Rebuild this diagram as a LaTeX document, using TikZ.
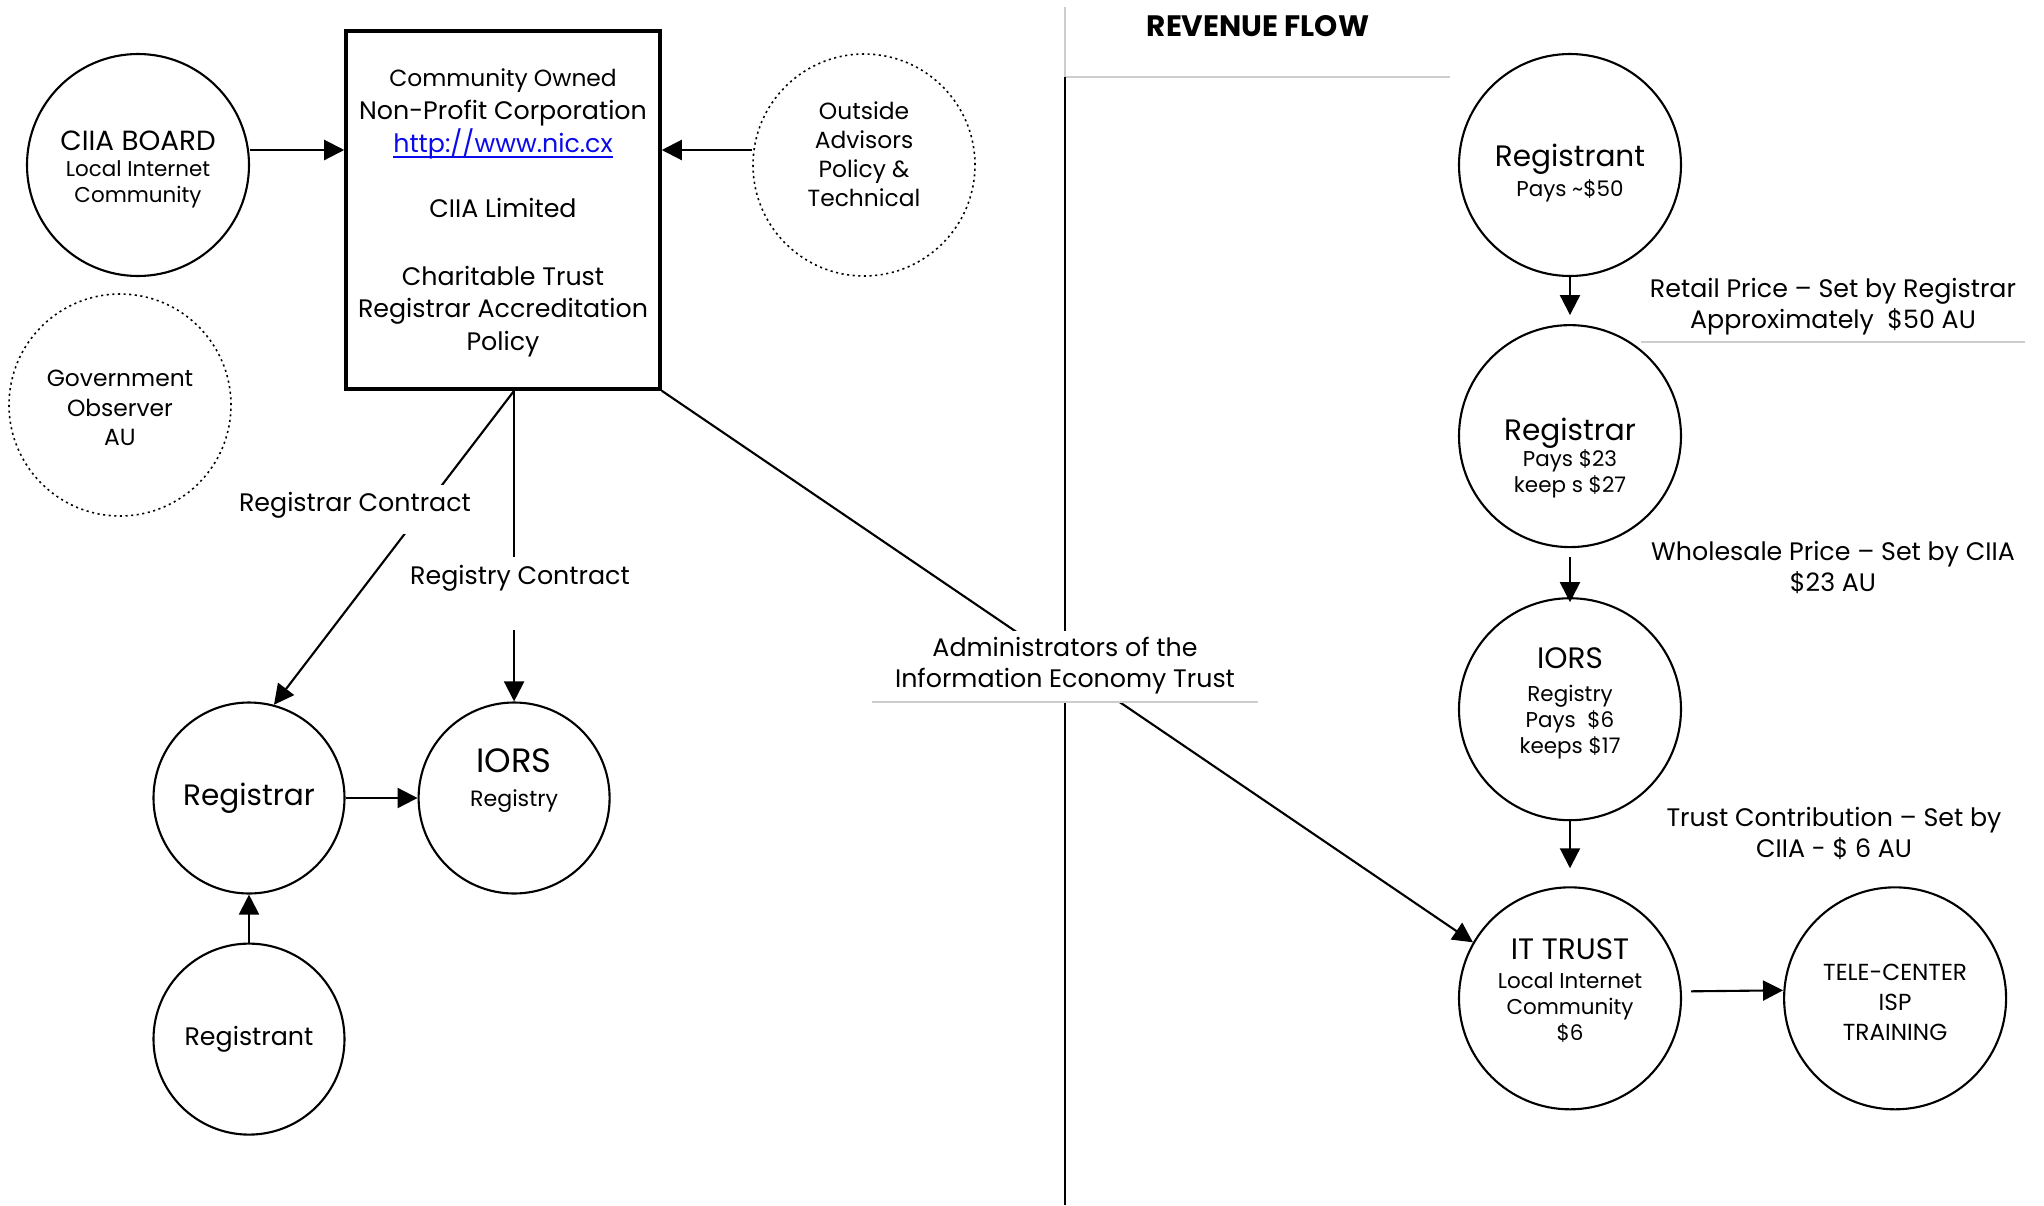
\documentclass[tikz,border=0pt]{standalone}
\usepackage{fontspec}
\setmainfont{Poppins}
\usetikzlibrary{arrows.meta,positioning,calc}

\definecolor{linkblue}{RGB}{10,10,235}
\definecolor{rulegray}{RGB}{205,205,205}

\newcommand{\txtXL}{\fontsize{9.6}{11}\selectfont}
\newcommand{\txtL}{\fontsize{8.4}{9.6}\selectfont}
\newcommand{\txtN}{\fontsize{7.2}{9.3}\selectfont}
\newcommand{\txtM}{\fontsize{6.65}{8.3}\selectfont}
\newcommand{\txtS}{\fontsize{6.1}{7.4}\selectfont}
% underline sitting just under the baseline
\newcommand{\linkul}[1]{\leavevmode\setbox0\hbox{#1}\rlap{\rule[-1.7pt]{\wd0}{0.55pt}}\box0}

\begin{document}
\begin{tikzpicture}[
  x=0.1mm, y=-0.1mm,
  circ/.style={circle, draw, line width=0.6pt, minimum size=2.22cm,
               inner sep=0pt, align=center, font=\txtS},
  dcirc/.style={circ, densely dotted, line width=0.45pt, font=\txtM},
  lcirc/.style={circ, minimum size=1.91cm},
  corp/.style={rectangle, draw, line width=1pt, minimum width=3.14cm,
               minimum height=3.58cm},
  txt/.style={align=center, inner sep=0pt, font=\txtN},
  ctxt/.style={txt, font=\txtS},
  lbl/.style={txt, fill=white},
  rule/.style={draw=rulegray, line width=0.5pt},
  conn/.style={draw, line width=0.6pt},
  arr/.style={draw, -{Triangle[length=2mm,width=2mm]}, line width=0.6pt},
  node distance=0.5cm and 1cm
]
\useasboundingbox (0,0) rectangle (2044,1205);

% left: governance
\node[circ] (board) at (138,165) {};
\node[ctxt] (boardT) at ($(board)+(0,4)$) {{\fontsize{7.9}{9.6}\selectfont CIIA BOARD}\\Local Internet\\Community};
\node[dcirc] (gov) at (120,405) {};
\node[txt, font=\txtM] (govT) at ($(gov)+(0,3)$) {Government\\Observer\\AU};
\node[dcirc] (adv) at (864,165) {};
\node[txt, font=\txtM] (advT) at ($(adv)+(0,-11)$) {Outside\\Advisors\\Policy \&\\Technical};
\node[corp] (ciia) at (503,210) {};
\node[txt] (ciiaT) at ($(ciia)+(0,3)$) {{\txtM Community Owned}\\Non-Profit Corporation\\
  \textcolor{linkblue}{\linkul{http://www.nic.cx}}\\[0.33cm]
  CIIA Limited\\[0.345cm]
  Charitable Trust\\Registrar Accreditation\\Policy};

\node[lcirc, font=\txtL] (regL) at (249,798) {Registrar};
\node[lcirc, right=0.72cm of regL] (iorsL) {};
\node[ctxt, font=\fontsize{6.3}{7.4}\selectfont] (iorsLT) at ($(iorsL)+(0,-17)$) {{\txtXL IORS}\\[0.08cm]Registry};
\node[lcirc, below=0.48cm of regL, font=\txtN] (rgtL) {Registrant};

% right: revenue flow
\node[font=\txtL\bfseries] (title) at (1258,26) {REVENUE FLOW};
\node[circ] (rgtR) at (1570,165) {};
\node[ctxt] (rgtRT) at ($(rgtR)+(0,8)$) {{\txtL Registrant}\\[0.04cm]Pays \textasciitilde\$50};
\node[circ, below=0.47cm of rgtR] (regR) {};
\node[ctxt] (regRT) at ($(regR)+(0,22)$) {{\txtL Registrar}\\Pays \$23\\keep s \$27};
\node[circ, below=0.49cm of regR] (iorsR) {};
\node[ctxt] (iorsRT) at ($(iorsR)+(0,-6)$) {{\txtL IORS}\\[0.07cm]Registry\\Pays\ \ \$6\\keeps \$17};
\node[circ, below=0.65cm of iorsR] (itT) {};
\node[ctxt] (itTT) at ($(itT)+(0,-8)$) {{\txtL IT TRUST}\\[0.03cm]Local Internet\\Community\\\$6};
\node[circ, right=1.01cm of itT] (tele) {};
\node[txt, font=\fontsize{6.6}{8.6}\selectfont] (teleT) at ($(tele)+(0,4)$) {TELE-CENTER\\ISP\\TRAINING};

% divider and title frame
\draw[rule] (1065,7) |- (1450,77);
\draw[conn] (1065,77) -- (1065,1205);

% connectors
\draw[arr] ($(board.east)+(0,-15)$) -- ($(board.east -| ciia.west)+(0,-15)$);
\draw[arr] ($(adv.west)+(0,-15)$) -- ($(adv.west -| ciia.east)+(0,-15)$);
\draw[arr] (ciia.south -| iorsL.north) -- (regL.75);
\draw[arr] (ciia.south -| iorsL.north) -- (iorsL.north);
\draw[arr] (ciia.south east) -- (itT.150);
\draw[arr] (regL) -- (iorsL);
\draw[arr] (rgtL) -- (regL);
\draw[arr, shorten >=0.09cm] (rgtR) -- (regR);
\draw[arr, shorten <=0.09cm, shorten >=-0.05cm] (regR) -- (iorsR);
\draw[arr, shorten >=0.18cm] (iorsR) -- (itT);
\draw[arr] ($(itT.east)+(9,-7)$) -- ($(tele.west)+(0,-8)$);

% labels over the lines
\node[lbl, anchor=base, inner xsep=2pt, text height=0.26cm, text depth=0.23cm] (rcon) at (355,511) {Registrar Contract};
\node[lbl, anchor=base, text height=0.27cm, text depth=0.46cm] (ycon) at (520,584) {Registry Contract};
\node[lbl, minimum width=3.85cm, minimum height=0.71cm,
      font=\fontsize{7.2}{8.8}\selectfont] (admin) at (1065,666) {Administrators of the\\Information Economy Trust};
\draw[rule] (admin.south west) -- (admin.south east);

\node[txt, minimum width=3.82cm, minimum height=0.68cm,
      font=\fontsize{7.2}{8.8}\selectfont] (retail) at (1833,307) {Retail Price -- Set by Registrar\\Approximately\ \ \$50 AU};
\draw[rule] (retail.south west) -- (retail.south east);
\node[txt, font=\fontsize{7.2}{8.8}\selectfont] (whole) at (1833,567) {Wholesale Price -- Set by CIIA\\\$23 AU};
\node[txt, font=\fontsize{7.2}{8.8}\selectfont] (trust) at (1834,833) {Trust Contribution -- Set by\\CIIA - \$ 6 AU};
\end{tikzpicture}
\end{document}
